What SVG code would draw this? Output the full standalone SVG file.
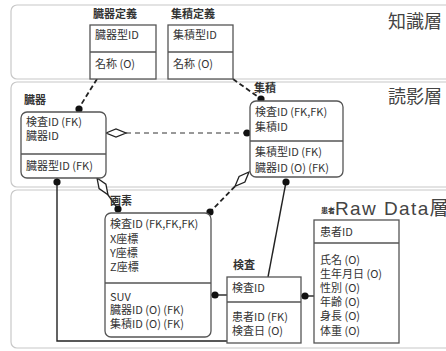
<svg xmlns="http://www.w3.org/2000/svg" width="446" height="351" viewBox="0 0 446 351">
<style>
.layer{fill:#fff;stroke:#c8c8c8;stroke-width:1.2}
.box{fill:#fff;stroke:#555;stroke-width:1.3}
.div{stroke:#555;stroke-width:1.3}
text{font-family:"Noto Sans CJK JP","Liberation Sans",sans-serif;fill:#333;font-size:11px}
.lbl{font-weight:bold;font-size:11px}
.big{font-size:18px;fill:#444}
.ln{fill:none;stroke:#222;stroke-width:1.4}
.dash{fill:none;stroke:#222;stroke-width:1.8;stroke-dasharray:5 3}
.thin{fill:none;stroke:#333;stroke-width:1;stroke-dasharray:5 4}
.dot{fill:#111}
.dia{fill:#fff;stroke:#222;stroke-width:1.3}
</style>
<rect width="446" height="351" fill="#fff"/>
<g id="layers">
<rect class="layer" x="11" y="5" width="460" height="74" rx="6"/>
<rect class="layer" x="11" y="82" width="460" height="105" rx="6"/>
<rect class="layer" x="11" y="190" width="460" height="158" rx="6"/>
<text class="big" x="388" y="28">知識層</text>
<text class="big" x="388" y="103">読影層</text>
<text class="big" x="335" y="215" style="font-family:'Liberation Sans','Noto Sans CJK JP',sans-serif;font-size:19px" letter-spacing="1.4">Raw Data層</text>
</g>
<g id="connectors">
<line class="dash" x1="97" y1="79" x2="79" y2="108"/>
<circle class="dot" cx="79" cy="109" r="3.6"/>
<line class="dash" x1="233" y1="79" x2="261" y2="99"/>
<circle class="dot" cx="261" cy="99" r="3.6"/>
<line class="thin" x1="126" y1="133" x2="247" y2="133"/>
<polygon class="dia" points="106,133 116,129 126,133 116,137"/>
<circle class="dot" cx="247" cy="133" r="3.6"/>
<line class="ln" x1="108" y1="194.8" x2="118" y2="209"/>
<polygon class="dia" points="97,178 105.9,184.2 108,194.8 99.1,188.6"/>
<circle class="dot" cx="118" cy="209" r="3.6"/>
<line class="dash" x1="235" y1="186.3" x2="210" y2="212"/>
<polygon class="dia" points="249,172 244.9,182 235,186.3 239.1,176.4"/>
<circle class="dot" cx="210" cy="212" r="3.6"/>
<line class="ln" x1="286" y1="182" x2="268" y2="277"/>
<circle class="dot" cx="286" cy="182" r="3.6"/>
<line class="ln" x1="211" y1="295" x2="227" y2="295"/>
<circle class="dot" cx="215" cy="295" r="3.6"/>
<polyline class="ln" points="57,178 57,341 227,341"/>
<circle class="dot" cx="57" cy="182" r="3.6"/>
<line class="ln" x1="301" y1="296" x2="314" y2="296"/>
<circle class="dot" cx="305" cy="296" r="3.6"/>
</g>
<g id="organ-def">
<text class="lbl" x="93" y="18">臓器定義</text>
<rect class="box" x="90" y="25" width="66" height="54"/>
<line class="div" x1="90" y1="52" x2="156" y2="52"/>
<text x="95" y="39">臓器型ID</text>
<text x="95" y="68">名称 (O)</text>
</g>
<g id="accum-def">
<text class="lbl" x="171" y="18">集積定義</text>
<rect class="box" x="168" y="25" width="65" height="54"/>
<line class="div" x1="168" y1="52" x2="233" y2="52"/>
<text x="173" y="39">集積型ID</text>
<text x="173" y="68">名称 (O)</text>
</g>
<g id="organ">
<text class="lbl" x="24" y="104">臓器</text>
<rect class="box" x="21" y="112" width="85" height="66" rx="6"/>
<line class="div" x1="21" y1="154" x2="106" y2="154"/>
<text x="26" y="126">検査ID (FK)</text>
<text x="26" y="140">臓器ID</text>
<text x="26" y="170">臓器型ID (FK)</text>
</g>
<g id="accum">
<text class="lbl" x="254" y="92">集積</text>
<rect class="box" x="250" y="101" width="93" height="76" rx="6"/>
<line class="div" x1="250" y1="141" x2="343" y2="141"/>
<text x="255" y="116">検査ID (FK,FK)</text>
<text x="255" y="131">集積ID</text>
<text x="255" y="156">集積型ID (FK)</text>
<text x="255" y="172">臓器ID (O) (FK)</text>
</g>
<g id="pixel">
<text class="lbl" x="110" y="205">画素</text>
<rect class="box" x="105" y="213" width="106" height="124" rx="6"/>
<line class="div" x1="105" y1="283" x2="211" y2="283"/>
<text x="110" y="228">検査ID (FK,FK,FK)</text>
<text x="110" y="243">X座標</text>
<text x="110" y="257">Y座標</text>
<text x="110" y="271">Z座標</text>
<text x="110" y="301">SUV</text>
<text x="110" y="314">臓器ID (O) (FK)</text>
<text x="110" y="328">集積ID (O) (FK)</text>
</g>
<g id="exam">
<text class="lbl" x="233" y="269">検査</text>
<rect class="box" x="227" y="277" width="74" height="66"/>
<line class="div" x1="227" y1="302" x2="301" y2="302"/>
<text x="232" y="292">検査ID</text>
<text x="232" y="321">患者ID (FK)</text>
<text x="232" y="335">検査日 (O)</text>
</g>
<g id="patient">
<text class="lbl" x="321" y="213" style="font-size:7px">患者</text>
<rect class="box" x="314" y="220" width="85" height="123"/>
<line class="div" x1="314" y1="243" x2="399" y2="243"/>
<text x="320" y="236">患者ID</text>
<text x="320" y="264">氏名 (O)</text>
<text x="320" y="278">生年月日 (O)</text>
<text x="320" y="292">性別 (O)</text>
<text x="320" y="306">年齢 (O)</text>
<text x="320" y="320">身長 (O)</text>
<text x="320" y="335">体重 (O)</text>
</g>
</svg>
